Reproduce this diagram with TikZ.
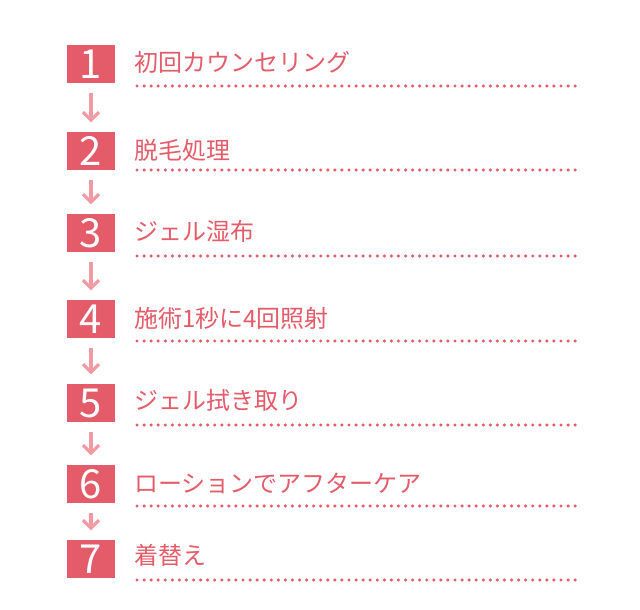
\documentclass[tikz,border=0pt]{standalone}
\usepackage{fontspec}
\setmainfont{Noto Sans CJK JP}
\usetikzlibrary{arrows.meta}
\definecolor{stepred}{HTML}{E45C69}
\definecolor{arrowpink}{HTML}{F29AA3}
\begin{document}
\begin{tikzpicture}[x=0.75pt,y=-0.75pt,
numbox/.style={rectangle,fill=stepred,text=white,minimum width=35.5pt,minimum height=28.5pt,inner sep=0pt,font=\fontsize{30}{30}\selectfont},
steplab/.style={anchor=west,text=stepred,inner sep=0pt,font=\fontsize{18}{18}\selectfont},
dotline/.style={stepred,line width=2.6pt,line cap=round,dash pattern=on 0pt off 5.3pt},
downarrow/.style={arrowpink,line width=2.4pt,-{Straight Barb[length=6pt,width=12pt]}}]
\useasboundingbox[fill=white] (0,0) rectangle (640,610);
% steps: box y / text y / dotted y
\foreach \n/\by/\ty/\ly/\txt in {1/64/62/86/初回カウンセリング,2/151/150/170/脱毛処理,3/233/231/256/ジェル湿布,4/319/318/341/施術1秒に4回照射,5/403/400/425/ジェル拭き取り,6/484/483/506/ローションでアフターケア,7/559/555/580/着替え}{
  \node[numbox] (box\n) at (91,\by) {\n};
  \node[steplab] (lab\n) at (134,\ty) {\txt};
  \coordinate (dl\n) at (137,\ly);
  \coordinate (dr\n) at (578,\ly);
  \draw[dotline] (dl\n) -- (dr\n);
}
% arrows
\foreach \a/\b in {1/2,2/3,3/4,4/5,5/6,6/7}{
  \draw[downarrow] ([yshift=-7pt]box\a.south) -- ([yshift=7pt]box\b.north);
}
\end{tikzpicture}
\end{document}
